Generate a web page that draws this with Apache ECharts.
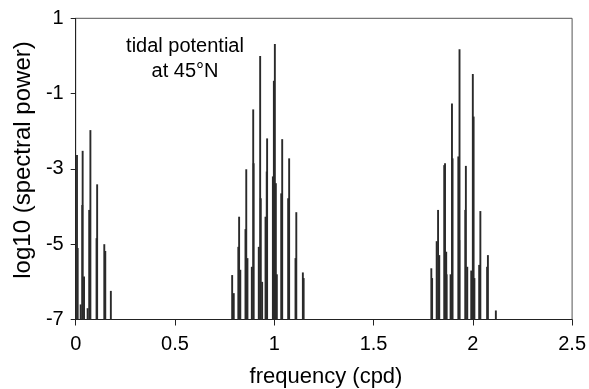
<!DOCTYPE html>
<html>
<head>
<meta charset="utf-8">
<script src="https://cdn.jsdelivr.net/npm/echarts@6/dist/echarts.min.js"></script>
<style>html,body{margin:0;padding:0;background:#fff}#c{width:589px;height:389px}</style>
</head>
<body>
<div id="c"></div>
<script>
// long-period band: frequency (cpd) and log10 spectral power
var longFreq  = [0.0065, 0.010, 0.025, 0.033, 0.035, 0.042, 0.060, 0.068, 0.074, 0.105, 0.108, 0.144, 0.149, 0.177];
var longPower = [-2.63, -5.10, -6.60, -3.96, -2.52, -5.86, -6.70, -4.09, -1.97, -4.84, -3.41, -5.00, -5.18, -6.24];
// diurnal band
var diurFreq  = [0.788, 0.796, 0.819, 0.823, 0.829, 0.855, 0.859, 0.865, 0.887, 0.894, 0.896, 0.922, 0.929, 0.932, 0.939,
                 0.956, 0.962, 0.964, 0.993, 0.998, 1.003, 1.008, 1.013, 1.035, 1.040, 1.070, 1.075, 1.107, 1.111, 1.144, 1.148];
var diurPower = [-5.82, -6.30, -5.07, -4.27, -5.68, -4.60, -3.01, -5.37, -5.60, -1.42, -2.85, -5.07, 0.00, -3.78, -6.00,
                 -4.27, -3.07, -2.19, -3.20, -0.66, 0.32, -3.38, -5.80, -3.65, -2.21, -3.78, -2.72, -5.37, -4.15, -5.75, -5.90];
// semidiurnal band
var semiFreq  = [1.791, 1.795, 1.818, 1.825, 1.831, 1.856, 1.860, 1.866, 1.868, 1.888, 1.895, 1.898, 1.927, 1.932, 1.933,
                 1.962, 1.965, 1.972, 1.992, 2.000, 2.004, 2.008, 2.032, 2.038, 2.072, 2.076, 2.116];
var semiPower = [-5.64, -5.90, -4.92, -4.09, -5.29, -2.90, -2.85, -5.20, -5.80, -5.80, -1.26, -2.72, -2.67, -4.89, 0.18,
                 -4.09, -2.92, -5.60, -5.70, -0.48, -1.61, -5.90, -5.55, -4.12, -5.60, -5.29, -6.76];
var xTicks = [0, 0.5, 1, 1.5, 2, 2.5];
var yTicks = [-7, -5, -3, -1, 1];

function pairs(f, p) { return f.map(function (v, i) { return [v, p[i]]; }); }
var lines = pairs(longFreq, longPower).concat(pairs(diurFreq, diurPower), pairs(semiFreq, semiPower));

var FONT = '"Liberation Sans", Arial, sans-serif';
var chart = echarts.init(document.getElementById('c'), null, {renderer: 'canvas'});
chart.setOption({
  animation: false,
  backgroundColor: '#fff',
  grid: {left: 75.7, right: 15.7, top: 18.3, bottom: 69.5, show: true, borderColor: '#555', borderWidth: 1, containLabel: false},
  xAxis: {
    type: 'value', min: xTicks[0], max: xTicks[xTicks.length - 1], interval: 0.5,
    axisLine: {onZero: false, lineStyle: {color: '#222', width: 1}},
    axisTick: {show: true, inside: false, length: 6, lineStyle: {color: '#222'}},
    axisLabel: {fontFamily: FONT, fontSize: 20, color: '#000', margin: 15},
    splitLine: {show: false}
  },
  yAxis: {
    type: 'value', min: yTicks[0], max: yTicks[yTicks.length - 1], interval: 2,
    axisLine: {onZero: false, lineStyle: {color: '#222', width: 1}},
    axisTick: {show: true, inside: false, length: 5, lineStyle: {color: '#222'}},
    axisLabel: {fontFamily: FONT, fontSize: 20, color: '#000', margin: 12},
    splitLine: {show: false}
  },
  graphic: [{
    type: 'text', x: 185, y: 34, z: 10,
    style: {text: 'tidal potential\nat 45°N', font: '20px ' + FONT, fill: '#000', align: 'center', lineHeight: 25}
  }, {
    type: 'text', x: 326, y: 377, z: 10,
    style: {text: 'frequency (cpd)', font: '22px ' + FONT, fill: '#000', align: 'center', verticalAlign: 'middle'}
  }, {
    type: 'text', x: 23, y: 160, rotation: Math.PI / 2, z: 10,
    style: {text: 'log10 (spectral power)', font: '24px ' + FONT, fill: '#000', align: 'center', verticalAlign: 'middle'}
  }],
  series: [{
    type: 'custom',
    data: lines,
    renderItem: function (params, api) {
      var top = api.coord([api.value(0), api.value(1)]);
      var bot = api.coord([api.value(0), yTicks[0]]);
      return {type: 'line', shape: {x1: top[0], y1: top[1], x2: bot[0], y2: bot[1]},
              style: {stroke: '#2a2a2a', lineWidth: 1.9}};
    }
  }]
});
</script>
</body>
</html>
